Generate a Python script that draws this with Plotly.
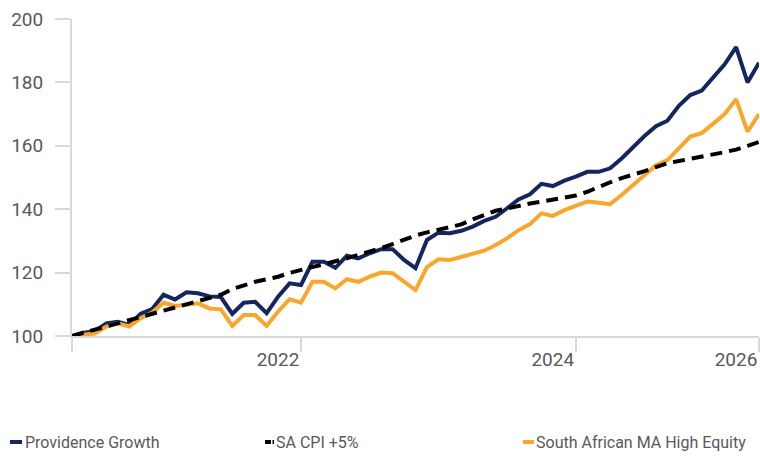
import plotly.graph_objects as go

# ---- data (monthly, index 0..60) ----
months = list(range(61))
providence = [100, 101, 101.5, 104, 104.5, 103.5, 107, 108.5, 113, 111.5,
              113.8, 113.5, 112.5, 112.3, 107, 110.5, 110.8, 107.2, 112.4, 116.6,
              116.1, 123.4, 123.4, 121.5, 125.3, 124.5, 126.1, 127.4, 127.4, 124,
              121.4, 130.3, 132.6, 132.4, 133.2, 134.5, 136.3, 137.6, 140.3, 143.1,
              144.7, 148, 147.3, 149, 150.3, 151.8, 151.8, 152.9, 156, 159.7,
              163.1, 166.2, 167.9, 172.6, 176, 177.4, 181.5, 185.7, 191.1, 180, 186.2]
cpi = [100.0, 101.0, 101.9, 102.8, 103.8, 104.8, 105.9, 107.0, 108.1, 109.0,
       109.9, 110.9, 111.8, 113.0, 114.8, 116.0, 117.1, 117.9, 118.7, 119.9,
       120.8, 121.6, 122.4, 123.5, 124.5, 125.6, 126.5, 127.7, 129.0, 130.5,
       131.7, 132.7, 133.6, 134.4, 135.2, 136.8, 138.2, 139.5, 140.2, 141.1,
       141.8, 142.4, 143.0, 143.5, 144.3, 145.5, 147.1, 148.5, 149.8, 150.8,
       152.0, 153.3, 154.5, 155.2, 156.0, 156.8, 157.3, 158.0, 158.8, 160.0, 161.2]
peers = [100, 100.3, 100.8, 103, 104, 103, 105.6, 107.4, 110.5, 109.5,
         110, 110.3, 108.7, 108.4, 103.2, 106.6, 106.6, 103.2, 107.7, 111.6,
         110.5, 117.1, 117.1, 115, 117.9, 117.1, 118.7, 120, 119.8, 117.1,
         114.5, 121.7, 124.2, 124, 125, 126.1, 126.9, 128.7, 130.8, 133.4,
         135.3, 138.7, 137.9, 139.7, 141, 142.4, 142, 141.6, 144.5, 147.6,
         150.8, 153.9, 155.5, 159.2, 162.9, 164, 166.8, 170, 174.7, 164.5, 170]
series_names = ["Providence Growth", "SA CPI +5%", "South African MA High Equity"]
x_tick_pos = [0, 20, 44, 60]
x_tick_text = ["", "2022", "2024", "2026"]
y_ticks = [100, 120, 140, 160, 180, 200]

NAVY = "#14265E"
ORANGE = "#F9A62B"
BLACK = "#000000"
GRID = "#D9D9D9"
TXT = "#595959"
FONT = "Roboto, Arial, sans-serif"

W, H = 760, 459
ML, MR, MT, MB = 72, 1, 19, 123

fig = go.Figure()
fig.add_trace(go.Scatter(x=months, y=providence, mode="lines", name=series_names[0],
                         line=dict(color=NAVY, width=4)))
fig.add_trace(go.Scatter(x=months, y=peers, mode="lines", name=series_names[2],
                         line=dict(color=ORANGE, width=4)))
fig.add_trace(go.Scatter(x=months, y=cpi, mode="lines", name=series_names[1],
                         line=dict(color=BLACK, width=4, dash="12px,7px")))

fig.update_layout(
    width=W, height=H,
    margin=dict(l=ML, r=MR, t=MT, b=MB, autoexpand=False),
    paper_bgcolor="white", plot_bgcolor="white",
    showlegend=False,
    font=dict(family=FONT, color=TXT, size=19),
)
fig.update_xaxes(range=[0, 60], tickvals=x_tick_pos, ticktext=x_tick_text,
                 automargin=False, ticklabeloverflow="allow",
                 showgrid=False, zeroline=False,
                 showline=True, linecolor=GRID, linewidth=2,
                 ticks="outside", ticklen=14, tickcolor=GRID, tickwidth=2,
                 ticklabelshift=-23, ticklabelstandoff=-9,
                 tickfont=dict(family=FONT, color=TXT, size=19))
fig.update_yaxes(range=[100, 200], tickvals=y_ticks,
                 automargin=False, ticklabeloverflow="allow",
                 showgrid=False, zeroline=False,
                 showline=True, linecolor=GRID, linewidth=2,
                 ticks="outside", ticklen=15, tickcolor=GRID, tickwidth=2,
                 ticklabelstandoff=8,
                 tickfont=dict(family=FONT, color=TXT, size=19))

# ---- manual legend (pixel helper -> paper coords) ----
PW = W - ML - MR
PH = H - MT - MB

def px(x):
    return (x - ML) / PW

def py(y):
    return (H - MB - y) / PH

leg_y = 442
legend_items = [
    (series_names[0], NAVY, 10, 22, 23),
    (series_names[1], BLACK, 265, 271, 274),
    (series_names[2], ORANGE, 523, 534, 534),
]
for name, col, x0, x1, xt in legend_items:
    fig.add_shape(type="line", xref="paper", yref="paper",
                  x0=px(x0), x1=px(x1), y0=py(leg_y), y1=py(leg_y),
                  line=dict(color=col, width=4))
    if name == series_names[1]:
        fig.add_shape(type="line", xref="paper", yref="paper",
                      x0=px(272.5), x1=px(274), y0=py(leg_y), y1=py(leg_y),
                      line=dict(color=col, width=4))
    fig.add_annotation(text=name, xref="paper", yref="paper",
                       x=px(xt), y=py(leg_y),
                       xanchor="left", yanchor="middle", showarrow=False,
                       font=dict(family=FONT, color=TXT, size=16))

fig.write_html("out.html",
               config={"displayModeBar": False},
               post_script="document.body.style.margin='0';"
                           "document.body.style.overflow='hidden';")
